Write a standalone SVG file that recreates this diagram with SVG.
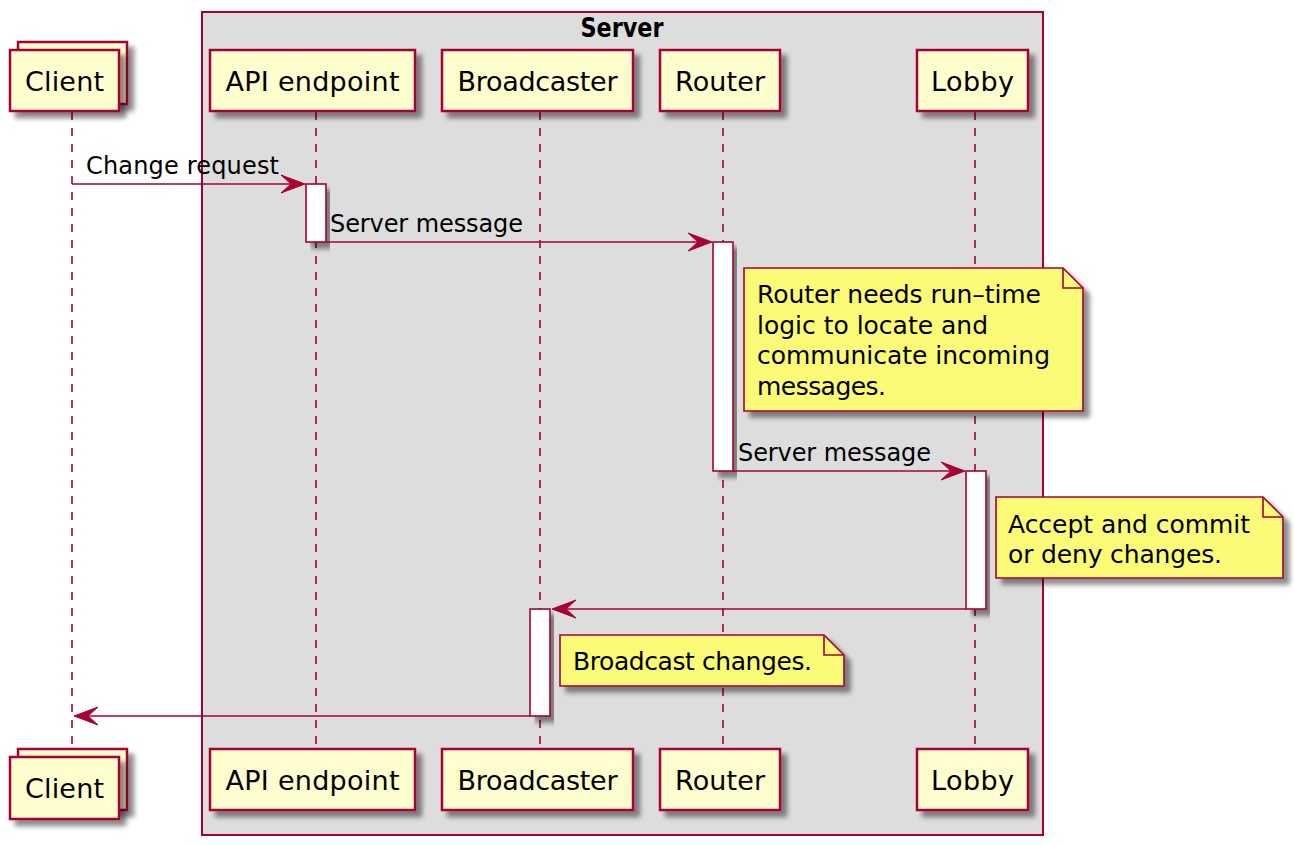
<svg xmlns="http://www.w3.org/2000/svg" width="1294" height="846" viewBox="0 0 1294 846">
<style>
.t{font-family:"DejaVu Sans","Liberation Sans",sans-serif;font-size:24px;fill:#000}
.pt{font-size:27px}
.nt{font-size:25px}
.c{text-anchor:middle}
.b{font-weight:bold;font-size:26px}
.p{fill:#FEFECE;stroke:#A80036;stroke-width:2.5;filter:url(#sh)}
.life{stroke:#A80036;stroke-width:1.6;stroke-dasharray:8,8;fill:none}
.act{fill:#FFFFFF;stroke:#A80036;stroke-width:1.6;filter:url(#sh)}
.note{fill:#FBFB77;stroke:#A80036;stroke-width:1.6;filter:url(#sh)}
.fold{fill:none;stroke:#A80036;stroke-width:1.6}
.msg{stroke:#A80036;stroke-width:1.6;fill:none}
.ah{fill:#A80036;stroke:#A80036;stroke-width:1}
</style>
<defs>
<filter id="sh" x="-10%" y="-10%" width="130%" height="140%">
<feGaussianBlur in="SourceAlpha" stdDeviation="2.5"/>
<feOffset dx="6" dy="6" result="o"/>
<feComponentTransfer><feFuncA type="linear" slope="0.45"/></feComponentTransfer>
<feMerge><feMergeNode/><feMergeNode in="SourceGraphic"/></feMerge>
</filter>
</defs>
<rect width="1294" height="846" fill="#FFFFFF"/>
<g id="server">
<rect x="202" y="12" width="841" height="823" fill="#DDDDDD" stroke="#A80036" stroke-width="2"/>
<text class="t c b" x="622" y="37" textLength="83" lengthAdjust="spacingAndGlyphs">Server</text>
</g>
<g id="lifelines">
<line class="life" x1="72" y1="112" x2="72" y2="748"/>
<line class="life" x1="316" y1="112" x2="316" y2="749"/>
<line class="life" x1="540" y1="112" x2="540" y2="749"/>
<line class="life" x1="723" y1="112" x2="723" y2="749"/>
<line class="life" x1="975" y1="112" x2="975" y2="749"/>
</g>
<g id="client">
<rect class="p" x="18" y="42" width="109" height="62"/>
<rect class="p" x="10" y="50" width="109" height="61"/>
<text class="t pt c" x="64.5" y="91" textLength="79">Client</text>
<rect class="p" x="18" y="749" width="109" height="61"/>
<rect class="p" x="10" y="757" width="109" height="62"/>
<text class="t pt c" x="64.5" y="798" textLength="79">Client</text>
</g>
<g id="api">
<rect class="p" x="210" y="50" width="205" height="61"/>
<text class="t pt c" x="312.5" y="91" textLength="174">API endpoint</text>
<rect class="p" x="210" y="749" width="205" height="61"/>
<text class="t pt c" x="312.5" y="790" textLength="174">API endpoint</text>
</g>
<g id="broadcaster">
<rect class="p" x="442" y="50" width="191" height="61"/>
<text class="t pt c" x="537.5" y="91" textLength="160">Broadcaster</text>
<rect class="p" x="442" y="749" width="191" height="61"/>
<text class="t pt c" x="537.5" y="790" textLength="160">Broadcaster</text>
</g>
<g id="router">
<rect class="p" x="660" y="50" width="120" height="61"/>
<text class="t pt c" x="720" y="91" textLength="90">Router</text>
<rect class="p" x="660" y="749" width="120" height="61"/>
<text class="t pt c" x="720" y="790" textLength="90">Router</text>
</g>
<g id="lobby">
<rect class="p" x="917" y="50" width="111" height="61"/>
<text class="t pt c" x="972.5" y="91" textLength="83">Lobby</text>
<rect class="p" x="917" y="749" width="111" height="61"/>
<text class="t pt c" x="972.5" y="790" textLength="83">Lobby</text>
</g>
<g id="activations">
<rect class="act" x="306" y="184" width="20" height="58"/>
<rect class="act" x="713" y="242" width="20" height="229"/>
<rect class="act" x="966" y="471" width="20" height="138"/>
<rect class="act" x="530" y="609" width="20" height="107"/>
</g>
<g id="connectors">
<line class="msg" x1="72" y1="184" x2="300" y2="184"/>
<polygon class="ah" points="305,184 281,175 291,184 281,193"/>
<text class="t" x="86" y="174" textLength="193">Change request</text>
<line class="msg" x1="326" y1="242" x2="707" y2="242"/>
<polygon class="ah" points="712,242 688,233 698,242 688,251"/>
<text class="t" x="330" y="232" textLength="193">Server message</text>
<line class="msg" x1="733" y1="471" x2="960" y2="471"/>
<polygon class="ah" points="965,471 941,462 951,471 941,480"/>
<text class="t" x="738" y="461" textLength="193">Server message</text>
<line class="msg" x1="966" y1="609" x2="557" y2="609"/>
<polygon class="ah" points="552,609 576,600 566,609 576,618"/>
<line class="msg" x1="530" y1="716" x2="79" y2="716"/>
<polygon class="ah" points="74,716 98,707 88,716 98,725"/>
</g>
<g id="note-router">
<path class="note" d="M744,268 L1063,268 L1083,288 L1083,411 L744,411 Z"/>
<path class="fold" d="M1063,268 L1063,288 L1083,288"/>
<text class="t nt" x="757" y="303" textLength="284">Router needs run–time</text>
<text class="t nt" x="757" y="334" textLength="231">logic to locate and</text>
<text class="t nt" x="757" y="364" textLength="293">communicate incoming</text>
<text class="t nt" x="757" y="395" textLength="129">messages.</text>
</g>
<g id="note-lobby">
<path class="note" d="M996,497 L1263,497 L1283,517 L1283,578 L996,578 Z"/>
<path class="fold" d="M1263,497 L1263,517 L1283,517"/>
<text class="t nt" x="1008" y="533" textLength="242">Accept and commit</text>
<text class="t nt" x="1008" y="563" textLength="214">or deny changes.</text>
</g>
<g id="note-broadcaster">
<path class="note" d="M560,635 L824,635 L844,655 L844,686 L560,686 Z"/>
<path class="fold" d="M824,635 L824,655 L844,655"/>
<text class="t nt" x="573" y="670" textLength="239">Broadcast changes.</text>
</g>
</svg>
